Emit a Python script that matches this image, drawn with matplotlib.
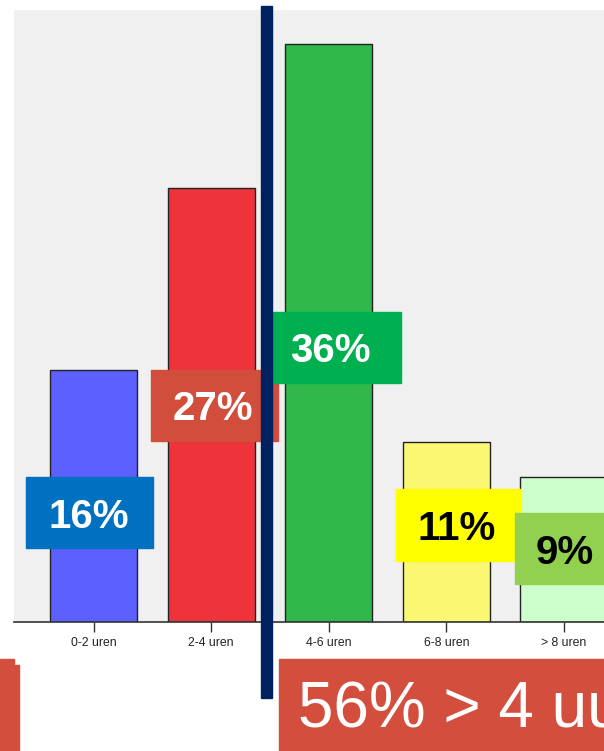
import matplotlib
matplotlib.use("Agg")
import matplotlib.pyplot as plt
from matplotlib.patches import Rectangle

plt.rcParams['font.family'] = ['Liberation Sans', 'DejaVu Sans']

# data
categories = ['0-2 uren', '2-4 uren', '4-6 uren', '6-8 uren', '> 8 uren']
percent = [15.7, 27.0, 36.0, 11.2, 9.0]
labels = ['16%', '27%', '36%', '11%', '9%']
bar_colors = ['#5B60FF', '#EF333A', '#30B84A', '#FAF873', '#CCFFCC']
box_colors = ['#0070C0', '#D24E3C', '#00B050', '#FFFF00', '#92D050']
text_colors = ['white', 'white', 'white', 'black', 'black']
summary = '56% > 4 uur'

W, H = 604, 751
fig = plt.figure(figsize=(W / 100, H / 100), dpi=100)
fig.patch.set_facecolor('white')

# bar chart
ax = fig.add_axes([14 / W, 1 - 622 / H, 590 / W, 612 / H])
ax.set_facecolor('#F0F0F0')
x = list(range(len(categories)))
ax.bar(x, percent, width=0.74, color=bar_colors, edgecolor='#222222', linewidth=1.0, zorder=2)
ax.set_xlim(-0.676, 4.34)
ax.set_ylim(0, 38.1)
ax.set_xticks(x)
ax.set_xticklabels(categories, fontsize=8.8, color='#222222')
ax.tick_params(axis='x', length=7, width=1, color='#333333', pad=4)
ax.set_yticks([])
for s in ['top', 'right', 'left']:
    ax.spines[s].set_visible(False)
ax.spines['bottom'].set_color('#333333')
ax.spines['bottom'].set_linewidth(1.2)

# overlay in pixel coordinates
ov = fig.add_axes([0, 0, 1, 1])
ov.set_xlim(0, W)
ov.set_ylim(H, 0)
ov.axis('off')
ov.patch.set_alpha(0)

# label boxes (x0, y0, x1, y1) and text centres in pixels
boxes = [(26, 477, 153, 548), (151, 370, 278, 441), (273, 312, 401, 383),
         (396, 489, 521, 561), (515, 513, 610, 584)]
text_x = [89, 213, 330, 457, 565]
for (x0, y0, x1, y1), tx, lab, bc, tc in zip(boxes, text_x, labels, box_colors, text_colors):
    ov.add_patch(Rectangle((x0, y0), x1 - x0, y1 - y0, color=bc, zorder=3))
    ov.text(tx, (y0 + y1) / 2 + 4, lab, color=tc, fontsize=29, fontweight='bold',
            ha='center', va='center', zorder=4)

# dividing line
ov.add_patch(Rectangle((261, 6), 11, 692, color='#00205F', zorder=5))

# bottom summary boxes
ov.add_patch(Rectangle((0, 659), 14, 6, color='#D44E3D', zorder=3))
ov.add_patch(Rectangle((0, 665), 19, 90, color='#D44E3D', zorder=3))
ov.add_patch(Rectangle((279, 659), 330, 95, color='#D44E3D', zorder=3))
ov.text(298, 711, summary, color='white', fontsize=46, ha='left', va='center', zorder=4)

fig.savefig('out.png', dpi=100)
